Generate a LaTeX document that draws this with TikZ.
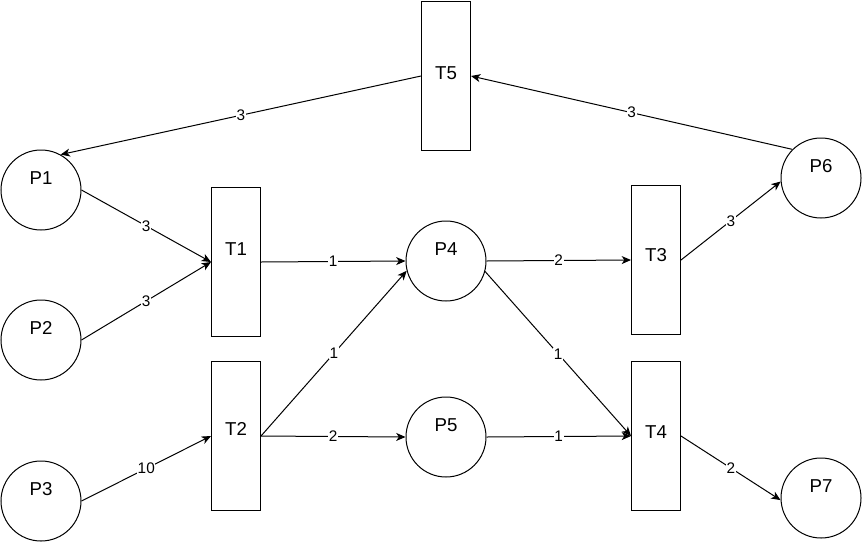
\documentclass[tikz,border=0pt]{standalone}
\usepackage{fontspec}
\setmainfont{Liberation Sans}
\usetikzlibrary{arrows.meta}

\begin{document}
\begin{tikzpicture}[x=0.75pt, y=-0.75pt]

\tikzset{
place/.style={
draw,
circle,
line width=0.75pt,
minimum size=60pt,
inner sep=0pt
},
trans/.style={
draw,
rectangle,
line width=0.75pt,
minimum width=36.75pt,
minimum height=111.75pt,
inner sep=0pt
},
tag/.style={font=\fontsize{14}{16}\selectfont},
arc/.style={-{Stealth[length=7pt, width=6pt, inset=2pt]}, line width=0.75pt},
wt/.style={fill=white, inner sep=0.5pt, font=\fontsize{11.5}{12}\selectfont}
}

\useasboundingbox (0,0) rectangle (862,543);

% places
\node[place, label={[tag, yshift=9pt]center:P1}] (P1) at (41,190) {};
\node[place, label={[tag, yshift=9pt]center:P2}] (P2) at (41,340) {};
\node[place, label={[tag, yshift=9pt]center:P3}] (P3) at (41,501) {};
\node[place, label={[tag, yshift=9pt]center:P4}] (P4) at (446,261) {};
\node[place, label={[tag, yshift=9pt]center:P5}] (P5) at (446,437) {};
\node[place, label={[tag, yshift=9pt]center:P6}] (P6) at (821,178) {};
\node[place, label={[tag, yshift=9pt]center:P7}] (P7) at (821,498) {};

% transitions
\node[trans, label={[tag, yshift=2pt]center:T5}] (T5) at (446,76) {};
\node[trans, label={[tag, yshift=10pt]center:T1}] (T1) at (236,262) {};
\node[trans, label={[tag, yshift=5pt]center:T2}] (T2) at (236,436) {};
\node[trans, label={[tag, yshift=4pt]center:T3}] (T3) at (656,260) {};
\node[trans, label={[tag, yshift=3pt]center:T4}] (T4) at (656,436) {};

% arcs
\draw[arc] (T5.west) -- node[wt] {3} (P1.61);
\draw[arc] (P6.135) -- node[wt] {3} (T5.east);
\draw[arc] (P1.east) -- node[wt] {3} (T1.west);
\draw[arc] (P2.east) -- node[wt] {3} (T1.west);
\draw[arc] (T1.east) -- node[wt] {1} (P4.west);
\draw[arc] (P3.east) -- node[wt] {10} (T2.west);
\draw[arc] (T2.east) -- node[wt] {1} (P4.194);
\draw[arc] (T2.east) -- node[wt] {2} (P5.west);
\draw[arc] (P4.east) -- node[wt] {2} (T3.west);
\draw[arc] (P4.-15) -- node[wt] {1} (T4.west);
\draw[arc] (P5.east) -- node[wt] {1} (T4.west);
\draw[arc] (T3.east) -- node[wt] {3} (P6.185);
\draw[arc] (T4.east) -- node[wt] {2} (P7.183);

\end{tikzpicture}
\end{document}
